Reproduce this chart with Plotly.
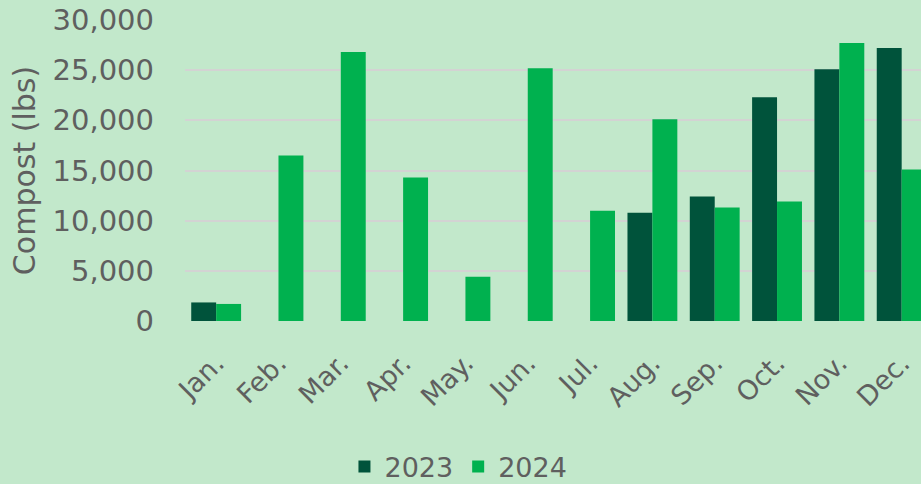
import plotly.graph_objects as go

months = ["Jan.", "Feb.", "Mar.", "Apr.", "May.", "Jun.", "Jul.", "Aug.", "Sep.", "Oct.", "Nov.", "Dec."]
compost_2023 = [1850, None, None, None, None, None, None, 10800, 12400, 22300, 25100, 27200]
compost_2024 = [1700, 16500, 26800, 14300, 4400, 25200, 11000, 20100, 11300, 11900, 27700, 15100]
y_ticks = [0, 5000, 10000, 15000, 20000, 25000, 30000]

FONT = "DejaVu Sans"
GREY = "#5f5f5f"
BG = "#c2e8cb"

fig = go.Figure()
fig.add_trace(go.Bar(x=months, y=compost_2023, name="2023", marker_color="#00533b", marker_line_width=0))
fig.add_trace(go.Bar(x=months, y=compost_2024, name="2024", marker_color="#00b14f", marker_line_width=0))

fig.update_layout(
    width=921, height=484,
    margin=dict(l=185, r=0, t=20, b=163),
    paper_bgcolor=BG, plot_bgcolor=BG,
    barmode="group", bargap=0.2, bargroupgap=0,
    font=dict(family=FONT, color=GREY),
    showlegend=True,
    legend=dict(
        orientation="h", xref="container", yref="container",
        x=0.374, xanchor="left", y=0.035, yanchor="middle",
        font=dict(size=27, color=GREY, family=FONT),
        bgcolor="rgba(0,0,0,0)", itemwidth=30,
    ),
)
fig.update_xaxes(
    range=[-0.5, 11.31], tickangle=-45,
    tickfont=dict(size=27, color=GREY, family=FONT),
    showgrid=False, showline=False, ticks="", ticklabelstandoff=20,
)
fig.update_yaxes(
    range=[0, 30000], tickvals=y_ticks, tickformat=",",
    tickfont=dict(size=29, color=GREY, family=FONT),
    showgrid=True, gridcolor="#d3d3d3", gridwidth=2,
    zeroline=False, showline=False, ticks="", ticklabelstandoff=30,
    title=dict(text="Compost (lbs)", font=dict(size=30, color=GREY, family=FONT), standoff=8),
)

fig.write_html(
    "out.html",
    config={"displayModeBar": False},
    post_script="document.body.style.margin='0';document.body.style.overflow='hidden';",
)
